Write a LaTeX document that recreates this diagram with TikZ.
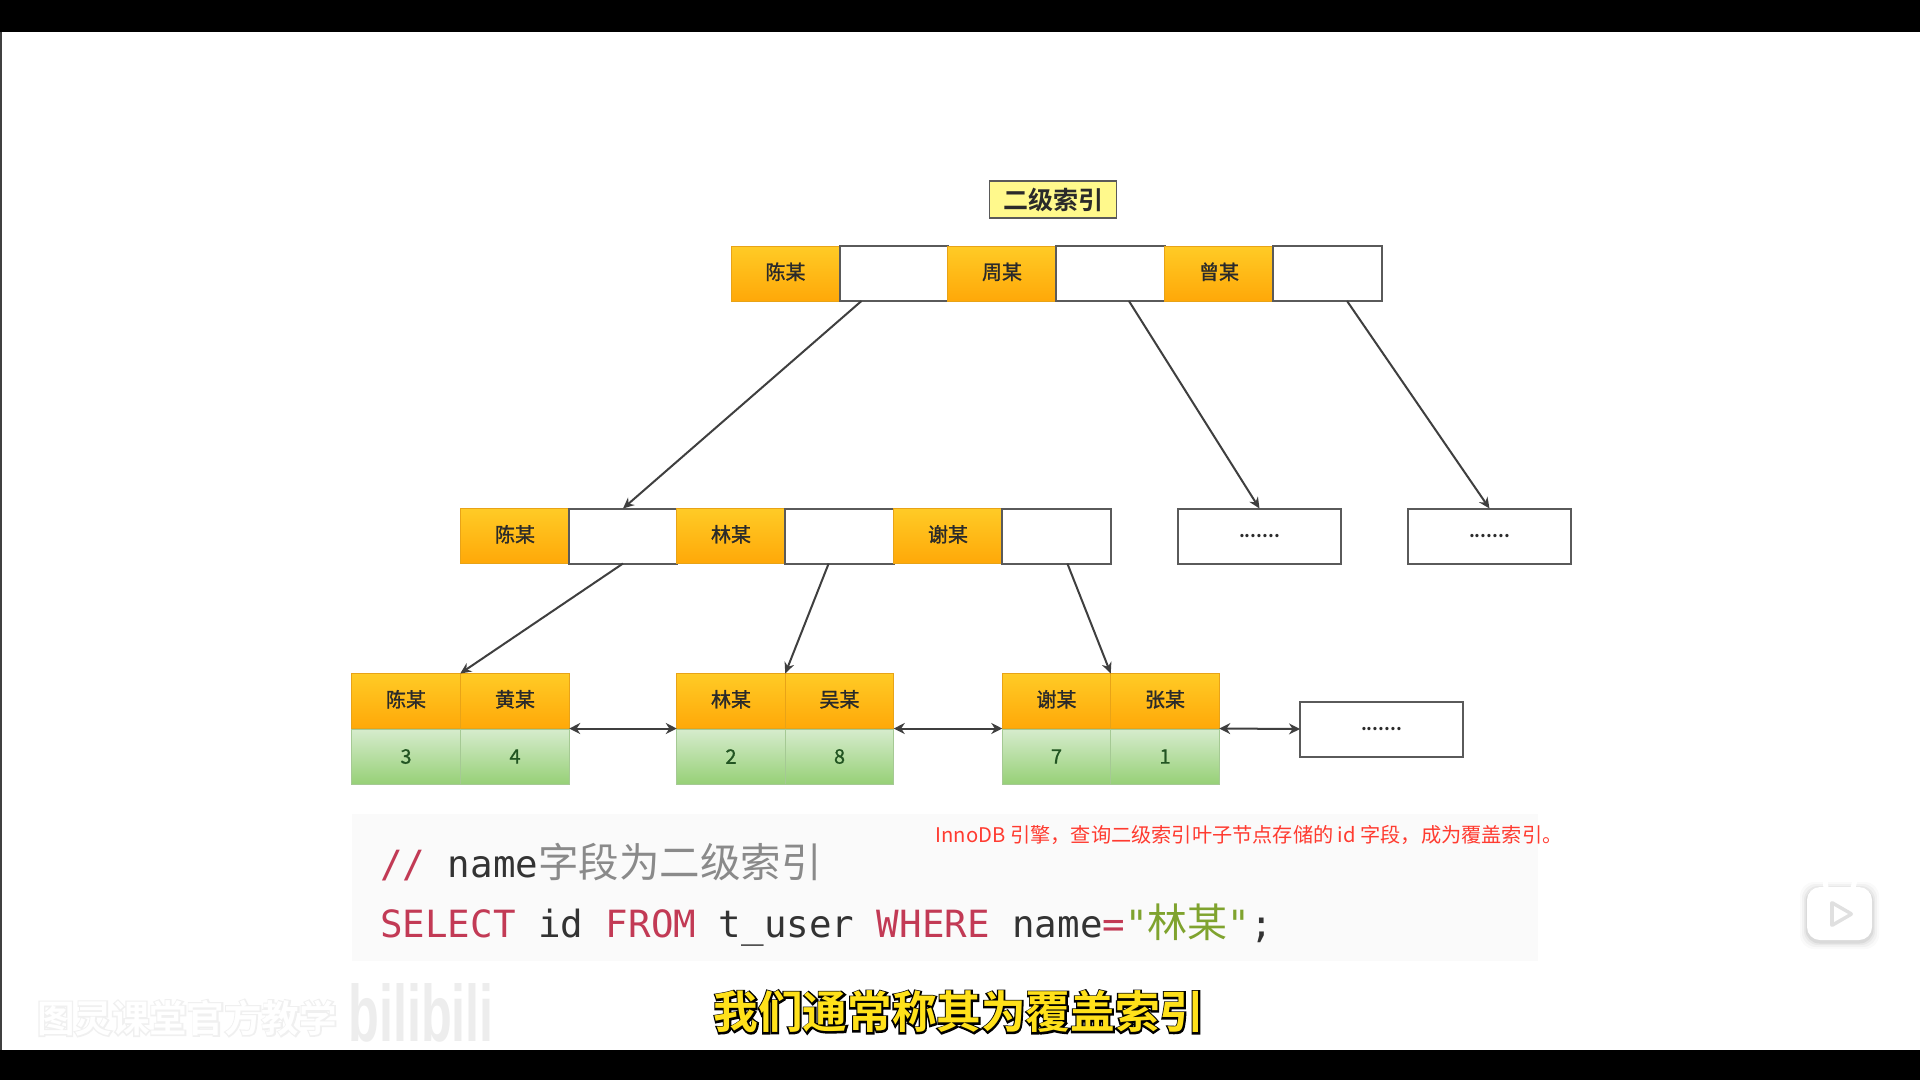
\documentclass[tikz,border=0pt]{standalone}
\usepackage{fontspec}
\usetikzlibrary{arrows.meta,calc}
\setmainfont{Noto Sans CJK SC}
\newfontfamily\cjkb{Noto Sans CJK SC Bold}
\newfontfamily\cjko[FakeBold=7]{Noto Sans CJK SC Bold}
\newfontfamily\cjkw[FakeBold=1.2]{Noto Sans CJK SC}
\newfontfamily\numf[FakeBold=1]{Noto Sans CJK SC}
\newfontfamily\codef{DejaVu Sans Mono}
\newfontfamily\logof{Liberation Sans Bold}
\definecolor{orTop}{HTML}{FFCB26}
\definecolor{orBot}{HTML}{FFA808}
\definecolor{orEdge}{HTML}{E8A317}
\definecolor{grTop}{HTML}{D6ECCD}
\definecolor{grBot}{HTML}{97D077}
\definecolor{grEdge}{HTML}{A5C994}
\definecolor{boxEdge}{HTML}{5A5A5A}
\definecolor{ink}{HTML}{2A2A2A}
\definecolor{kw}{HTML}{C23A55}
\definecolor{strg}{HTML}{7FA32E}
\definecolor{codeInk}{HTML}{333333}
\definecolor{cmtGray}{HTML}{8A8A8A}
\definecolor{subY}{HTML}{FFE11A}
\definecolor{redNote}{HTML}{FF3B30}
\definecolor{codeBg}{HTML}{FAFAFA}
\tikzset{
  cellbase/.style={minimum width=#1,minimum height=55pt,inner sep=0pt,outer sep=0pt},
  orcell/.style={cellbase=#1,shade,top color=orTop,bottom color=orBot,draw=orEdge,line width=.8pt,text=ink,text depth=5pt,font=\cjkw\fontsize{20}{24}\selectfont},
  grcell/.style={cellbase=#1,shade,top color=grTop,bottom color=grBot,draw=grEdge,line width=.8pt,text=ink!80!green,font=\numf\fontsize{20}{24}\selectfont},
  whcell/.style={cellbase=#1,fill=white,draw=boxEdge,line width=2pt,text=ink},
  dotcell/.style={whcell=#1,font=\cjkb\fontsize{18}{22}\selectfont},
  titlebox/.style={fill=yellow!45,draw=boxEdge,line width=1.6pt,minimum width=127pt,minimum height=37pt,inner sep=0pt,font=\cjkb\fontsize{25}{30}\selectfont,text=ink},
  link/.style={draw=ink!90,line width=2pt,-{Stealth[length=11pt,width=10pt]}},
  dlink/.style={draw=ink!90,line width=2pt,{Stealth[length=11pt,width=11pt]}-{Stealth[length=11pt,width=11pt]}},
  codetext/.style={anchor=base west,inner sep=0pt,font=\codef\fontsize{37.5}{44}\selectfont,text=codeInk},
}
\newcommand{\outlined}[3]{\makebox[0pt][l]{\color{#2}\cjko #1}{\color{#3}\cjkb #1}}
\begin{document}
\begin{tikzpicture}[x=1pt,y=-1pt]
\useasboundingbox (0,0) rectangle (1920,1080);
\fill[white] (0,0) rectangle (1920,1080);
\fill[black] (0,0) rectangle (1920,32);
\fill[black] (0,1050) rectangle (1920,1080);
\fill[black!75] (0,32) rectangle (2,1050);
% title
\node[titlebox] (title) at (1053,199.5) {二级索引};
% top row
\node[orcell=108.5pt] (t1) at (785.5,273.5) {陈某};
\node[whcell=108.5pt] (t2) at (894,273.5) {};
\node[orcell=108.5pt] (t3) at (1002,273.5) {周某};
\node[whcell=108.5pt] (t4) at (1110.5,273.5) {};
\node[orcell=108.5pt] (t5) at (1219,273.5) {曾某};
\node[whcell=108.5pt] (t6) at (1327.5,273.5) {};
% middle row
\node[orcell=108.5pt] (m1) at (515,536) {陈某};
\node[whcell=108.5pt] (m2) at (623,536) {};
\node[orcell=108.5pt] (m3) at (731,536) {林某};
\node[whcell=108.5pt] (m4) at (839.5,536) {};
\node[orcell=108.5pt] (m5) at (948,536) {谢某};
\node[whcell=108.5pt] (m6) at (1056.5,536) {};
\node[dotcell=163pt,text depth=1pt] (m7) at (1259.5,536) {.......};
\node[dotcell=163pt,text depth=1pt] (m8) at (1489.5,536) {.......};
% leaves
\node[orcell=108.5pt] (la1) at (406,701) {陈某};
\node[orcell=108.5pt] (la2) at (515,701) {黄某};
\node[grcell=108.5pt] (lb1) at (406,756.5) {3};
\node[grcell=108.5pt] (lb2) at (515,756.5) {4};
\node[orcell=108.5pt] (la3) at (731,701) {林某};
\node[orcell=108.5pt] (la4) at (839.5,701) {吴某};
\node[grcell=108.5pt] (lb3) at (731,756.5) {2};
\node[grcell=108.5pt] (lb4) at (839.5,756.5) {8};
\node[orcell=108.5pt] (la5) at (1056.5,701) {谢某};
\node[orcell=108.5pt] (la6) at (1165,701) {张某};
\node[grcell=108.5pt] (lb5) at (1056.5,756.5) {7};
\node[grcell=108.5pt] (lb6) at (1165,756.5) {1};
\node[dotcell=163pt,text depth=1pt] (l7) at (1381.5,729) {.......};
% connectors
\draw[link] ($(t2.south west)!0.2!(t2.south east)$) -- (m2.north);
\draw[link] ($(t4.south west)!0.67!(t4.south east)$) -- (m7.north);
\draw[link] ($(t6.south west)!0.68!(t6.south east)$) -- (m8.north);
\draw[link] (m2.south) -- (la1.north east);
\draw[link] ($(m4.south west)!0.4!(m4.south east)$) -- (la3.north east);
\draw[link] ($(m6.south west)!0.6!(m6.south east)$) -- (la5.north east);
\draw[dlink] (la2.south east) -- (la3.south west);
\draw[dlink] (la4.south east) -- (la5.south west);
\draw[dlink] (la6.south east) -- (l7.west);
% code block
\fill[codeBg] (352,814) rectangle (1538,961);
\node[codetext] (c1) at (380,877) {\textcolor{kw}{//} name{\rmfamily\fontsize{40.5}{44}\selectfont\color{cmtGray}字段为二级索引}};
\node[codetext] (c2) at (380,937) {\textcolor{kw}{SELECT} id \textcolor{kw}{FROM} t\_user \textcolor{kw}{WHERE} name\textcolor{kw}{=}\textcolor{strg}{"{\rmfamily\fontsize{40}{44}\selectfont 林某}"};};
\node[anchor=base west,inner sep=0pt,text=redNote,font=\fontsize{20.2}{24}\selectfont] (note) at (935.5,842) {InnoDB 引擎，查询二级索引叶子节点存储的 id 字段，成为覆盖索引。};
% subtitle
\node[inner sep=0pt,font=\fontsize{44.6}{50}\selectfont] (sub) at (959,1012) {\outlined{我们通常称其为覆盖索引}{black}{subY}};
% watermark
\node[inner sep=0pt,font=\fontsize{37.5}{42}\selectfont] (wm) at (187,1018) {\outlined{图灵课堂官方教学}{black!6}{white}};
\node[inner sep=0pt,text=black!7,font=\logof\fontsize{80}{80}\selectfont,xscale=.63] (logo) at (421,1013) {bilibili};
% play icon
\foreach \o/\g in {7/2,5/3,3/4,1.5/6}{
  \fill[black,opacity=.0\g,rounded corners=14pt] (1807-\o,887-\o+2) rectangle (1872+\o,940+\o+2);
}
\fill[white,rounded corners=13pt] (1807,887) rectangle (1872,940);
\draw[white,line width=5pt,line cap=round] (1826,888) -- (1825,880);
\draw[white,line width=5pt,line cap=round] (1853,888) -- (1855,880);
\draw[black!12,line width=4pt,line join=round] (1832,903) -- (1851,914) -- (1832,925) -- cycle;
\fill[white,line join=round] (1834,906) -- (1848,914) -- (1834,922) -- cycle;
\end{tikzpicture}
\end{document}
